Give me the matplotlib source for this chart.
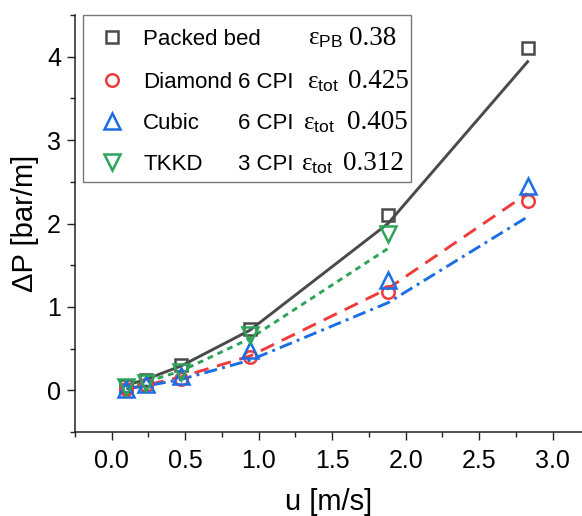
import matplotlib
matplotlib.use("Agg")
import matplotlib.pyplot as plt
from matplotlib.patches import Rectangle
from matplotlib.ticker import MultipleLocator

plt.rcParams['font.family'] = ['Liberation Sans', 'DejaVu Sans']
plt.rcParams['mathtext.fontset'] = 'custom'
plt.rcParams['mathtext.rm'] = 'Liberation Serif'
plt.rcParams['mathtext.sf'] = 'Liberation Sans'
plt.rcParams['mathtext.it'] = 'Liberation Serif:italic'

# ---- data ----
u = [0.1, 0.23, 0.47, 0.94, 1.88, 2.83]
u_tkkd = [0.1, 0.23, 0.47, 0.94, 1.88]

pb_exp = [0.05, 0.12, 0.30, 0.74, 2.10, 4.10]
dia_exp = [0.02, 0.06, 0.14, 0.40, 1.18, 2.27]
cub_exp = [0.02, 0.08, 0.17, 0.48, 1.32, 2.45]
tkkd_exp = [0.04, 0.09, 0.22, 0.66, 1.88]

pb_fit = [0.06, 0.13, 0.29, 0.72, 2.00, 3.94]
dia_fit = [0.02, 0.06, 0.16, 0.41, 1.22, 2.36]
cub_fit = [0.02, 0.05, 0.13, 0.36, 1.05, 2.08]
tkkd_fit = [0.04, 0.10, 0.23, 0.62, 1.70]

names = ["Packed bed", "Diamond", "Cubic", "TKKD"]
cpis = ["", "6 CPI", "6 CPI", "3 CPI"]
eps_sub = ["PB", "tot", "tot", "tot"]
eps_val = ["0.38", "0.425", "0.405", "0.312"]

c_pb = "#4a4a4a"
c_dia = "#ef3b3b"
c_cub = "#1a6ee6"
c_tk = "#2ea35a"

fig = plt.figure(figsize=(5.82, 5.16), dpi=100)
ax = fig.add_axes([75/582, 1-432/516, 507/582, 417/516])

lw = 2.1
ax.plot(u, pb_fit, color=c_pb, lw=lw, ls='-')
ax.plot(u, dia_fit, color=c_dia, lw=lw, ls=(0, (5, 3)))
ax.plot(u, cub_fit, color=c_cub, lw=lw, ls=(0, (4.5, 1.8, 1, 1.8)))
ax.plot(u_tkkd, tkkd_fit, color=c_tk, lw=lw, ls=(0, (2, 1.7)))

mew = 1.8
ax.plot(u, pb_exp, ls='none', marker='s', ms=8.5, mfc='none', mec=c_pb, mew=mew)
ax.plot(u, dia_exp, ls='none', marker='o', ms=9, mfc='none', mec=c_dia, mew=mew)
ax.plot(u, cub_exp, ls='none', marker='^', ms=11, mfc='none', mec=c_cub, mew=mew)
ax.plot(u_tkkd, tkkd_exp, ls='none', marker='v', ms=11, mfc='none', mec=c_tk, mew=mew)

ax.set_xlim(-0.25, 3.2)
ax.set_ylim(-0.5, 4.5)
ax.xaxis.set_major_locator(MultipleLocator(0.5))
ax.xaxis.set_minor_locator(MultipleLocator(0.25))
ax.yaxis.set_major_locator(MultipleLocator(1))
ax.yaxis.set_minor_locator(MultipleLocator(0.5))
ax.xaxis.set_major_formatter(matplotlib.ticker.FormatStrFormatter('%.1f'))
for s in ['top', 'right']:
    ax.spines[s].set_visible(False)
for s in ['left', 'bottom']:
    ax.spines[s].set_linewidth(1.1)
    ax.spines[s].set_color('#222222')
ax.tick_params(which='major', direction='out', length=6, width=1.0, labelsize=18, color='#222222')
ax.tick_params(which='minor', direction='out', length=3.5, width=1.0, color='#222222')
ax.tick_params(axis='x', which='major', pad=6)
ax.tick_params(axis='y', which='major', pad=4)
ax.set_xlabel("u [m/s]", fontsize=21, labelpad=11)
ax.set_ylabel("ΔP [bar/m]", fontsize=21, labelpad=6)

# ---- legend ----
def fx(px):
    return (px - 75) / 507

def fy(py):
    return (432 - py) / 417

ax.add_patch(Rectangle((fx(83.3), fy(181.7)), fx(411) - fx(83.3), fy(15) - fy(181.7),
                       transform=ax.transAxes, fill=True, facecolor='white',
                       edgecolor='#777777', lw=1.0, zorder=5, clip_on=False))
rows_py = [36.7, 80, 121, 162]
styles = [('s', 8.5, c_pb), ('o', 9, c_dia), ('^', 11, c_cub), ('v', 11, c_tk)]
eps_x = [307.7, 306.7, 302.7, 300.7]
num_x = [349, 348, 346.7, 343]
for i, py in enumerate(rows_py):
    m, ms, c = styles[i]
    ax.plot([fx(111.7)], [fy(py)], transform=ax.transAxes, marker=m, ms=ms,
            mfc='none', mec=c, mew=mew, ls='none', zorder=6, clip_on=False)
    yb = fy(py + 8)
    ax.text(fx(143), yb, names[i], transform=ax.transAxes, fontsize=16,
            va='baseline', ha='left', zorder=7)
    if cpis[i]:
        ax.text(fx(293), yb, cpis[i], transform=ax.transAxes, fontsize=16,
                va='baseline', ha='right', zorder=7)
    ax.text(fx(eps_x[i]), yb, r"$\mathrm{ε}_{\mathsf{%s}}$" % eps_sub[i],
            transform=ax.transAxes, fontsize=18, va='baseline', ha='left', zorder=7)
    ax.text(fx(num_x[i]), yb, eps_val[i], transform=ax.transAxes, fontsize=19.5,
            family='Liberation Serif', va='baseline', ha='left', zorder=7)

fig.savefig("out.png", dpi=100)
